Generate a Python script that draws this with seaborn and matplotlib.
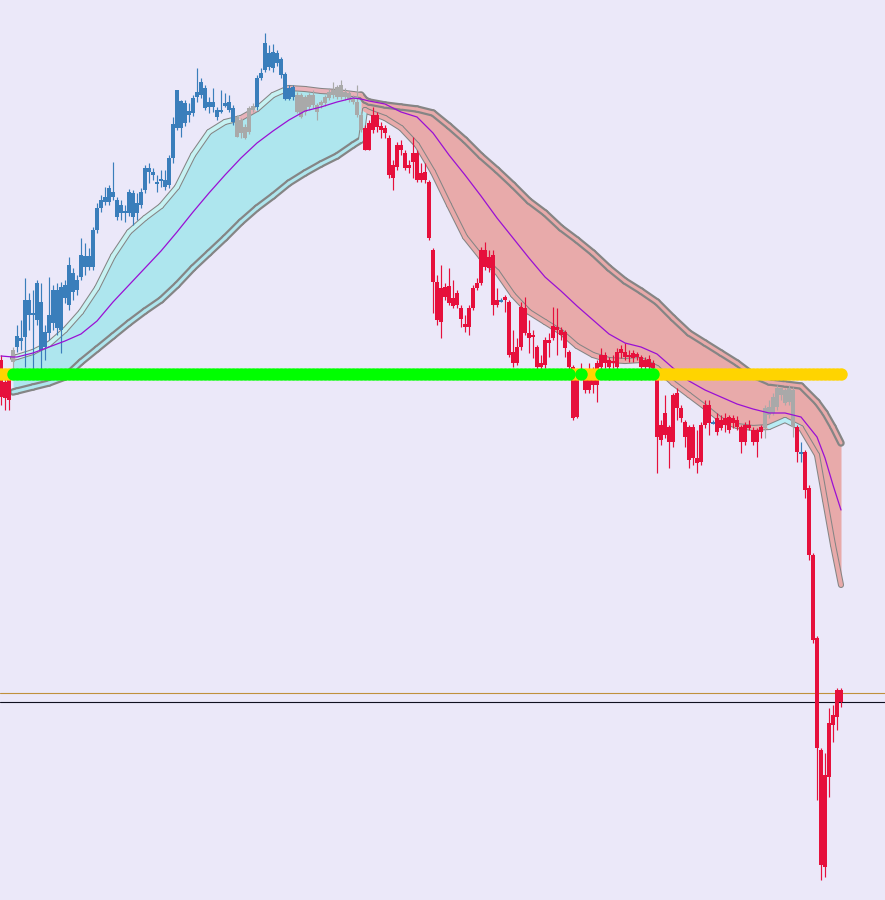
import numpy as np
import matplotlib
matplotlib.use("Agg")
import matplotlib.pyplot as plt
import seaborn as sns
from matplotlib.collections import LineCollection

# ---------------- data (chart price scale, axis drawn inverted) ----------------
body_top = [360,382,380,350,336,338,300,300,313,283,302,332,315,290,290,287,285,265,273,280,
            255,256,256,230,208,200,197,188,192,200,205,211,192,193,203,192,168,168,172,182,
            179,180,158,124,90,101,103,111,98,92,82,88,102,102,110,110,103,102,108,117,
            120,127,108,106,78,73,43,53,52,53,59,74,88,87,95,95,97,95,95,105,
            102,97,92,90,87,85,92,93,98,102,115,128,123,115,115,126,128,138,165,145,
            145,153,165,153,153,173,172,182,250,282,288,287,286,298,293,308,324,308,288,283,
            250,250,257,255,300,300,297,302,352,347,307,308,333,335,347,363,340,340,326,327,
            330,332,352,367,373,370,378,377,378,363,355,355,360,361,352,349,352,355,353,354,
            357,360,359,363,378,425,413,427,395,393,408,422,427,427,458,425,405,405,422,418,
            420,418,417,418,420,427,425,425,430,430,427,408,407,397,388,388,390,388,390,427,
            452,452,488,555,638,750,775,723,715,690,690]
body_bot = [397,398,400,362,347,341,337,315,315,320,350,347,333,323,328,330,298,305,292,290,
            277,267,267,267,230,208,202,202,197,217,213,213,213,217,213,205,190,172,175,183,
            181,187,185,158,128,128,123,115,113,97,95,108,107,107,117,112,106,110,122,137,
            133,138,132,110,107,78,70,67,68,63,75,99,99,97,112,117,112,107,105,112,
            105,103,98,95,97,97,97,100,102,115,130,150,150,130,127,130,133,175,178,167,
            150,168,168,162,180,180,180,238,282,320,322,297,303,306,305,319,327,327,308,288,
            283,267,268,305,305,300,300,355,363,363,347,333,338,337,367,367,365,343,338,330,
            335,348,367,418,417,375,390,390,385,385,367,363,367,363,367,353,357,357,358,357,
            367,367,367,368,437,440,435,442,442,408,418,437,460,458,463,462,425,423,422,432,
            428,425,430,423,427,442,442,428,442,442,432,428,415,413,407,395,403,402,427,452,
            452,490,555,640,748,865,867,777,725,717,702]
wick_hi = [355,375,376,347,325,320,278,293,290,280,283,325,277,285,283,282,280,257,268,275,
           238,243,248,227,203,195,187,185,162,197,200,205,189,190,193,188,165,163,168,175,
           170,170,155,117,90,100,100,103,95,68,78,85,97,88,107,90,93,95,105,115,
           118,124,106,103,75,68,33,45,44,50,57,72,85,85,92,93,95,93,90,103,
           100,95,88,82,85,80,88,91,95,85,112,125,120,107,112,122,125,135,160,142,
           140,150,160,137,150,163,163,180,248,275,265,283,268,280,290,305,315,305,285,278,
           247,242,250,250,288,298,295,300,330,338,302,297,320,330,345,355,337,333,307,308,
           327,330,350,365,370,363,375,363,367,360,348,352,357,355,348,345,343,350,350,352,
           355,357,355,360,375,420,395,425,393,388,405,420,425,424,430,422,400,400,420,413,
           415,413,415,415,416,425,422,420,427,428,425,405,400,393,385,387,388,385,387,425,
           442,450,485,553,636,748,753,708,705,688,688]
wick_lo = [405,410,410,368,352,350,367,330,370,325,370,360,340,330,335,353,303,310,300,295,
           280,275,270,270,233,212,205,205,200,220,220,222,216,225,220,208,193,183,180,192,
           187,190,188,163,130,137,126,122,116,102,98,110,113,112,120,113,107,112,125,137,
           138,139,134,112,110,80,72,70,72,66,78,100,100,100,113,118,115,110,108,120,
           108,106,100,98,99,99,100,102,104,117,132,150,150,133,132,138,138,178,190,170,
           155,170,173,178,182,182,183,240,313,325,338,300,305,308,308,327,332,335,310,290,
           285,270,272,315,307,302,312,357,367,365,350,335,353,358,370,370,368,357,340,355,
           340,357,370,420,418,378,393,393,393,402,370,368,380,368,370,358,360,362,362,360,
           380,370,372,375,473,445,438,468,447,420,422,447,468,465,473,465,428,435,424,435,
           430,432,433,428,430,453,445,430,445,457,438,438,418,415,410,400,405,405,437,462,
           462,498,560,643,800,880,877,797,742,730,707]

trend_runs = [("down", 3), ("flat", 1), ("up", 55), ("flat", 5), ("up", 10),
              ("flat", 17), ("down", 100), ("flat", 8), ("down", 12)]
signal_runs = [("gold", 3), ("green", 140), ("gold", 2), ("green", 1),
               ("gold", 4), ("green", 14), ("gold", 47)]
regime_switch = 91          # first candle of the down-trend channel

band_idx = [3,4,8,12,16,20,24,28,32,36,40,44,48,52,56,60,64,68,72,76,80,84,88,90,91,92,
            96,100,104,108,112,116,120,124,128,132,136,140,144,148,152,156,160,164,168,172,
            176,180,184,188,192,196,200,204,206,208,210]
band_upper = [358,357,352,344,330,312,288,256,232,218,206,187,155,132,122,118,109,95,88,89,91,92,94,95,100,102,
              105,107,109,113,126,140,156,170,185,201,213,228,240,253,268,281,291,302,318,333,
              343,353,363,375,382,384,386,402,413,427,443]
band_lower = [392,391,387,383,377,362,349,336,323,311,300,285,268,253,238,222,208,196,183,173,164,156,145,140,110,112,
              118,128,145,172,205,237,257,272,295,312,322,332,346,355,360,361,360,368,383,395,
              407,420,426,428,427,420,428,455,500,545,585]
mid_idx = [0] + band_idx
band_mid = [356,357,357,353,347,341,334,321,302,285,268,251,232,212,193,175,158,143,131,120,111,107,102,98,99,100,101,
            104,112,117,133,155,175,196,218,238,258,277,291,306,320,334,343,347,354,368,381,
            390,397,404,409,413,413,417,437,458,485,510]

signal_level = 373.5
level_lines = [693.3, 702.0]

# ---------------- styling ----------------
BG = "#EBE8F9"
UP_C, DOWN_C, FLAT_C = "#3A7EBB", "#E6103C", "#A9A9A9"
CYAN, SALMON = "#AEE6EE", "#E8AAAA"
NEAR_UP, NEAR_UP_FLAT, NEAR_DN_FLAT = "#C6F2F2", "#E8B2BA", "#B8ECF4"
GREY = "#858585"

sns.set_theme(style="white")
fig = plt.figure(figsize=(8.85, 9.0), dpi=100)
fig.patch.set_facecolor(BG)
ax = fig.add_axes([0, 0, 1, 1])
ax.set_facecolor(BG)

trend = [t for t, n in trend_runs for _ in range(n)]
signal = [s for s, n in signal_runs for _ in range(n)]
idx = np.arange(len(body_top))
top, bot = np.array(body_top, float), np.array(body_bot, float)

# ---- channel fill ----
bx = np.array(band_idx)
ax.fill_between(bx, band_upper, band_lower, where=bx <= regime_switch - 1,
                color=CYAN, lw=0, zorder=1)
ax.fill_between(bx, band_upper, band_lower, where=bx >= regime_switch - 1,
                color=SALMON, lw=0, zorder=1)

def seg_info(k):
    a, b = band_idx[k], band_idx[k + 1]
    up = b < regime_switch
    states = trend[a:b + 1]
    flat = sum(s == "flat" for s in states) >= 0.5 * len(states)
    return up, flat

def draw_edge(vals, is_upper):
    segs, base_w, inner_w, inner_c = [], [], [], []
    for k in range(len(band_idx) - 1):
        up, flat = seg_info(k)
        segs.append([(band_idx[k], vals[k]), (band_idx[k + 1], vals[k + 1])])
        near = (up and is_upper) or ((not up) and (not is_upper))
        if near:
            base_w.append(4.4); inner_w.append(2.9)
            if up:
                inner_c.append(NEAR_UP_FLAT if flat else NEAR_UP)
            else:
                inner_c.append(NEAR_DN_FLAT if flat else SALMON)
        else:
            base_w.append(5.4); inner_w.append(2.2)
            inner_c.append(CYAN if up else SALMON)
    ax.add_collection(LineCollection(segs, colors=GREY, linewidths=base_w,
                                     capstyle="round", joinstyle="round", zorder=2))
    ax.add_collection(LineCollection(segs, colors=inner_c, linewidths=inner_w,
                                     capstyle="round", joinstyle="round", zorder=2.1))

draw_edge(band_upper, True)
draw_edge(band_lower, False)

# ---- candles ----
cols = []
for i in idx:
    if top[i] == bot[i]:
        cols.append(UP_C)
    else:
        cols.append({"up": UP_C, "down": DOWN_C, "flat": FLAT_C}[trend[i]])
ax.vlines(idx, wick_hi, wick_lo, colors=cols, lw=0.85, zorder=3)
ax.bar(idx, np.maximum(bot - top, 1.5), bottom=top, width=0.78,
       color=cols, linewidth=0, zorder=3.1, antialiased=False)

# ---- middle line ----
sns.lineplot(x=mid_idx, y=band_mid, ax=ax, color="#9A10D4", lw=0.9, zorder=4)

# ---- signal dots ----
sig = np.array(signal)
gold = idx[sig == "gold"]
green = idx[sig == "green"]
ax.scatter(gold, np.full(len(gold), signal_level), s=80, color="#FFD400",
           linewidths=0, zorder=5)
ax.scatter(green, np.full(len(green), signal_level), s=80, color="#00FF00",
           linewidths=0, zorder=5.1)

# ---- level lines ----
ax.axhline(level_lines[0], color="#C0903C", lw=0.8, zorder=2.5)
ax.axhline(level_lines[1], color="#101020", lw=0.8, zorder=2.5)

ax.set_xlim(-0.25, 221.0)
ax.set_ylim(900, 0)
ax.set_xticks([]); ax.set_yticks([])
for s in ax.spines.values():
    s.set_visible(False)

fig.savefig("out.png", dpi=100, facecolor=BG)
